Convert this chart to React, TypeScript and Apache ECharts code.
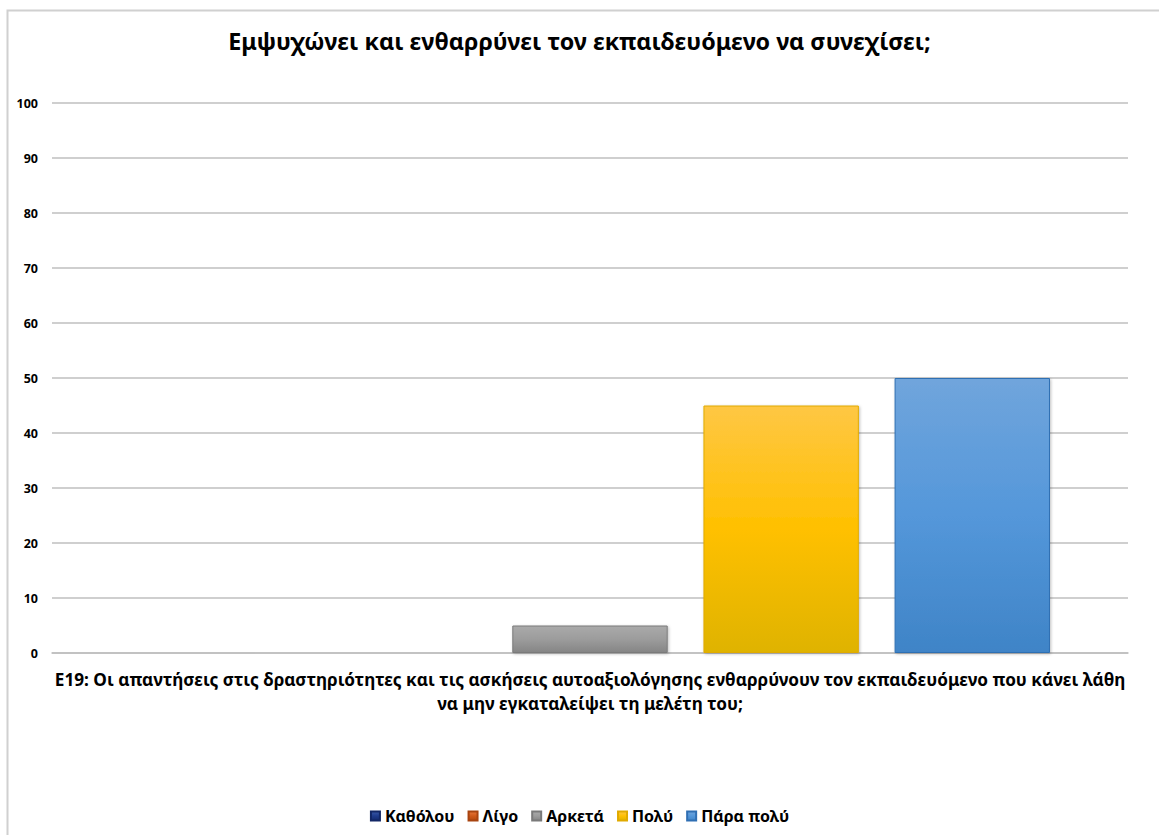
import React, { useEffect, useRef } from "react";
import * as echarts from "echarts";

const title = "Εμψυχώνει και ενθαρρύνει τον εκπαιδευόμενο να συνεχίσει;";
const categories = [
  "Ε19: Οι απαντήσεις στις δραστηριότητες και τις ασκήσεις αυτοαξιολόγησης ενθαρρύνουν τον εκπαιδευόμενο που κάνει λάθη\nνα μην εγκαταλείψει τη μελέτη του;",
];
const seriesNames = ["Καθόλου", "Λίγο", "Αρκετά", "Πολύ", "Πάρα πολύ"];
const kathólou = [0];
const ligo = [0];
const arketa = [5];
const poly = [45];
const paraPoly = [50];
const seriesValues = [kathólou, ligo, arketa, poly, paraPoly];

const gradients: [string, string, string][] = [
  ["#3a5aa8", "#1f3b8c", "#142a6e"],
  ["#e8773a", "#d05a1a", "#b3470d"],
  ["#aaaaaa", "#9c9c9c", "#858585"],
  ["#fec744", "#ffc000", "#dfb300"],
  ["#70a5dc", "#5497da", "#3f84c7"],
];
const borders = ["#132766", "#a84410", "#7a7a7a", "#e0aa00", "#2f6fb3"];

const FONT = "'Noto Sans', sans-serif";

export default function App() {
  const ref = useRef<HTMLDivElement>(null);
  useEffect(() => {
    const chart = echarts.init(ref.current!, null, { renderer: "svg" });
    chart.setOption({
      animation: false,
      backgroundColor: "#ffffff",
      textStyle: { fontFamily: FONT },
      title: {
        text: title,
        left: "center",
        top: 24,
        textStyle: { fontFamily: FONT, fontSize: 23.3, fontWeight: "bold", color: "#000" },
      },
      graphic: [
        {
          type: "polyline",
          shape: { points: [[7.5, 840], [7.5, 10.5], [1160, 10.5]] },
          style: { stroke: "#d0d0d0", lineWidth: 2, fill: "none" },
          silent: true,
        },
      ],
      legend: {
        bottom: 6,
        left: "center",
        itemWidth: 9,
        itemHeight: 9,
        itemGap: 13,
        icon: "rect",
        textStyle: { fontFamily: FONT, fontSize: 16, fontWeight: "bold", color: "#000" },
        data: seriesNames,
      },
      grid: { left: 52, right: 31, top: 103, bottom: 182, containLabel: false },
      xAxis: {
        type: "category",
        data: categories,
        axisLine: { show: true, lineStyle: { color: "#bfbfbf", width: 1.5 } },
        axisTick: { show: false },
        axisLabel: {
          interval: 0,
          margin: 14,
          lineHeight: 24,
          fontFamily: FONT,
          fontSize: 17.2,
          fontWeight: "bold",
          color: "#000",
          align: "center",
        },
      },
      yAxis: {
        type: "value",
        min: 0,
        max: 100,
        interval: 10,
        axisLine: { show: false },
        axisTick: { show: false },
        axisLabel: { margin: 14, fontFamily: FONT, fontSize: 12.5, fontWeight: "bold", color: "#000" },
        splitLine: { lineStyle: { color: "#bfbfbf", width: 1.5 } },
      },
      series: seriesNames.map((name, i) => ({
        name,
        type: "bar",
        data: seriesValues[i],
        barGap: "23%",
        barCategoryGap: "14.5%",
        itemStyle: {
          color: new echarts.graphic.LinearGradient(0, 0, 0, 1, [
            { offset: 0, color: gradients[i][0] },
            { offset: 0.5, color: gradients[i][1] },
            { offset: 1, color: gradients[i][2] },
          ]),
          borderColor: borders[i],
          borderWidth: 1,
          shadowColor: "rgba(0,0,0,0.25)",
          shadowBlur: 3,
          shadowOffsetX: 1,
          shadowOffsetY: 1,
        },
      })),
    });
    return () => chart.dispose();
  }, []);
  return (
    <div
      ref={ref}
      style={{ position: "fixed", left: 0, top: 0, width: 1159, height: 835 }}
    />
  );
}
